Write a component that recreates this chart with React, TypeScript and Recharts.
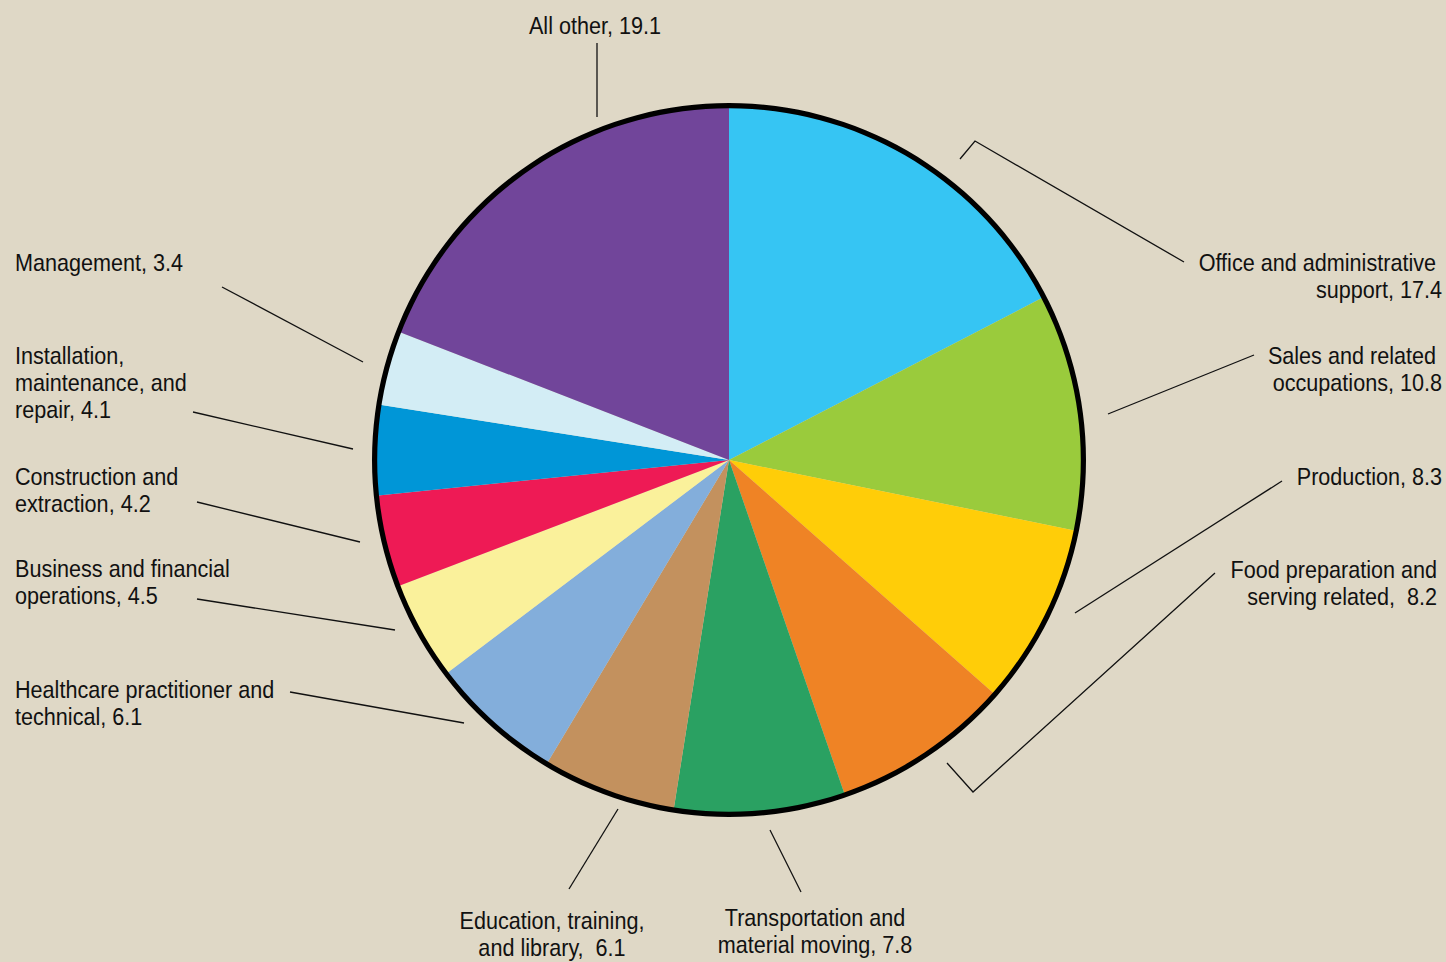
import React from 'react';
import { PieChart, Pie, Cell } from 'recharts';

const categories = [
  'Office and administrative support',
  'Sales and related occupations',
  'Production',
  'Food preparation and serving related',
  'Transportation and material moving',
  'Education, training, and library',
  'Healthcare practitioner and technical',
  'Business and financial operations',
  'Construction and extraction',
  'Installation, maintenance, and repair',
  'Management',
  'All other',
];

const values = [17.4, 10.8, 8.3, 8.2, 7.8, 6.1, 6.1, 4.5, 4.2, 4.1, 3.4, 19.1];

const colors = [
  '#36C5F3',
  '#9ACB3C',
  '#FFCD08',
  '#EF8325',
  '#2AA162',
  '#C3915E',
  '#83AEDB',
  '#FAF19B',
  '#EE1A55',
  '#0096D7',
  '#D3EDF5',
  '#71459A',
];

// Label text lines (value is appended to the final line)
const labelText: string[][] = [
  ['Office and administrative ', 'support, '],
  ['Sales and related ', 'occupations, '],
  ['Production, '],
  ['Food preparation and', 'serving related,  '],
  ['Transportation and', 'material moving, '],
  ['Education, training,', 'and library,  '],
  ['Healthcare practitioner and', 'technical, '],
  ['Business and financial', 'operations, '],
  ['Construction and', 'extraction, '],
  ['Installation,', 'maintenance, and', 'repair, '],
  ['Management, '],
  ['All other, '],
];

// Label layout relative to the pie centre (annotation placement only)
type Layout = { anchor: 'start' | 'middle' | 'end'; x: number; y: number; leader: number[][] };
const labelLayout: Layout[] = [
  { anchor: 'end', x: 713, y: -189, leader: [[231, -301], [246, -319], [455, -198]] },
  { anchor: 'end', x: 713, y: -96, leader: [[379, -46], [525, -105]] },
  { anchor: 'end', x: 713, y: 25, leader: [[346, 153], [553, 21]] },
  { anchor: 'end', x: 708, y: 118, leader: [[218, 303], [244, 332], [486, 113]] },
  { anchor: 'middle', x: 86, y: 466, leader: [[41, 370], [72, 432]] },
  { anchor: 'middle', x: -177, y: 469, leader: [[-111, 349], [-160, 429]] },
  { anchor: 'start', x: -714, y: 238, leader: [[-265, 263], [-439, 232]] },
  { anchor: 'start', x: -714, y: 117, leader: [[-334, 170], [-532, 139]] },
  { anchor: 'start', x: -714, y: 25, leader: [[-369, 82], [-532, 42]] },
  { anchor: 'start', x: -714, y: -96, leader: [[-376, -11], [-536, -48]] },
  { anchor: 'start', x: -714, y: -189, leader: [[-366, -98], [-507, -173]] },
  { anchor: 'middle', x: -134, y: -426, leader: [[-132, -343], [-132, -417]] },
];

const pieData = categories.map((name, i) => ({ name, value: values[i] }));
const ringData = [{ name: 'outline', value: 1 }];

const CX = 729;
const CY = 460;
const FONT = "'Liberation Sans', Arial, Helvetica, sans-serif";

const renderLabel = (props: any) => {
  const { cx, cy, index } = props;
  const l = labelLayout[index];
  if (!l) return null;
  const lines = labelText[index].slice();
  lines[lines.length - 1] = lines[lines.length - 1] + values[index].toFixed(1);
  return (
    <g key={`lab-${index}`}>
      <polyline
        points={l.leader.map(([a, b]) => `${cx + a},${cy + b}`).join(' ')}
        fill="none"
        stroke="#111"
        strokeWidth={1.3}
      />
      <text
        transform={`translate(${cx + l.x},${cy + l.y}) scale(0.9,1)`}
        textAnchor={l.anchor}
        fontSize={24}
        fontFamily={FONT}
        fill="#111"
        style={{ whiteSpace: 'pre' }}
      >
        {lines.map((t, i) => (
          <tspan key={i} x={0} y={i * 27}>
            {t}
          </tspan>
        ))}
      </text>
    </g>
  );
};

export default function App() {
  return (
    <div
      style={{
        position: 'absolute',
        left: 0,
        top: 0,
        width: 1446,
        height: 962,
        background: '#DFD8C6',
        overflow: 'hidden',
      }}
    >
      <PieChart width={1446} height={962} margin={{ top: 0, right: 0, bottom: 0, left: 0 }}>
        <Pie
          data={pieData}
          dataKey="value"
          nameKey="name"
          cx={CX}
          cy={CY}
          innerRadius={0}
          outerRadius={355}
          startAngle={90}
          endAngle={-270}
          stroke="none"
          label={renderLabel}
          labelLine={false}
          isAnimationActive={false}
        >
          {pieData.map((d, i) => (
            <Cell key={d.name} fill={colors[i]} stroke="none" />
          ))}
        </Pie>
        <Pie
          data={ringData}
          dataKey="value"
          cx={CX}
          cy={CY}
          innerRadius={351.8}
          outerRadius={357}
          startAngle={90}
          endAngle={-270}
          fill="#000"
          stroke="none"
          label={false}
          labelLine={false}
          isAnimationActive={false}
        />
      </PieChart>
    </div>
  );
}
